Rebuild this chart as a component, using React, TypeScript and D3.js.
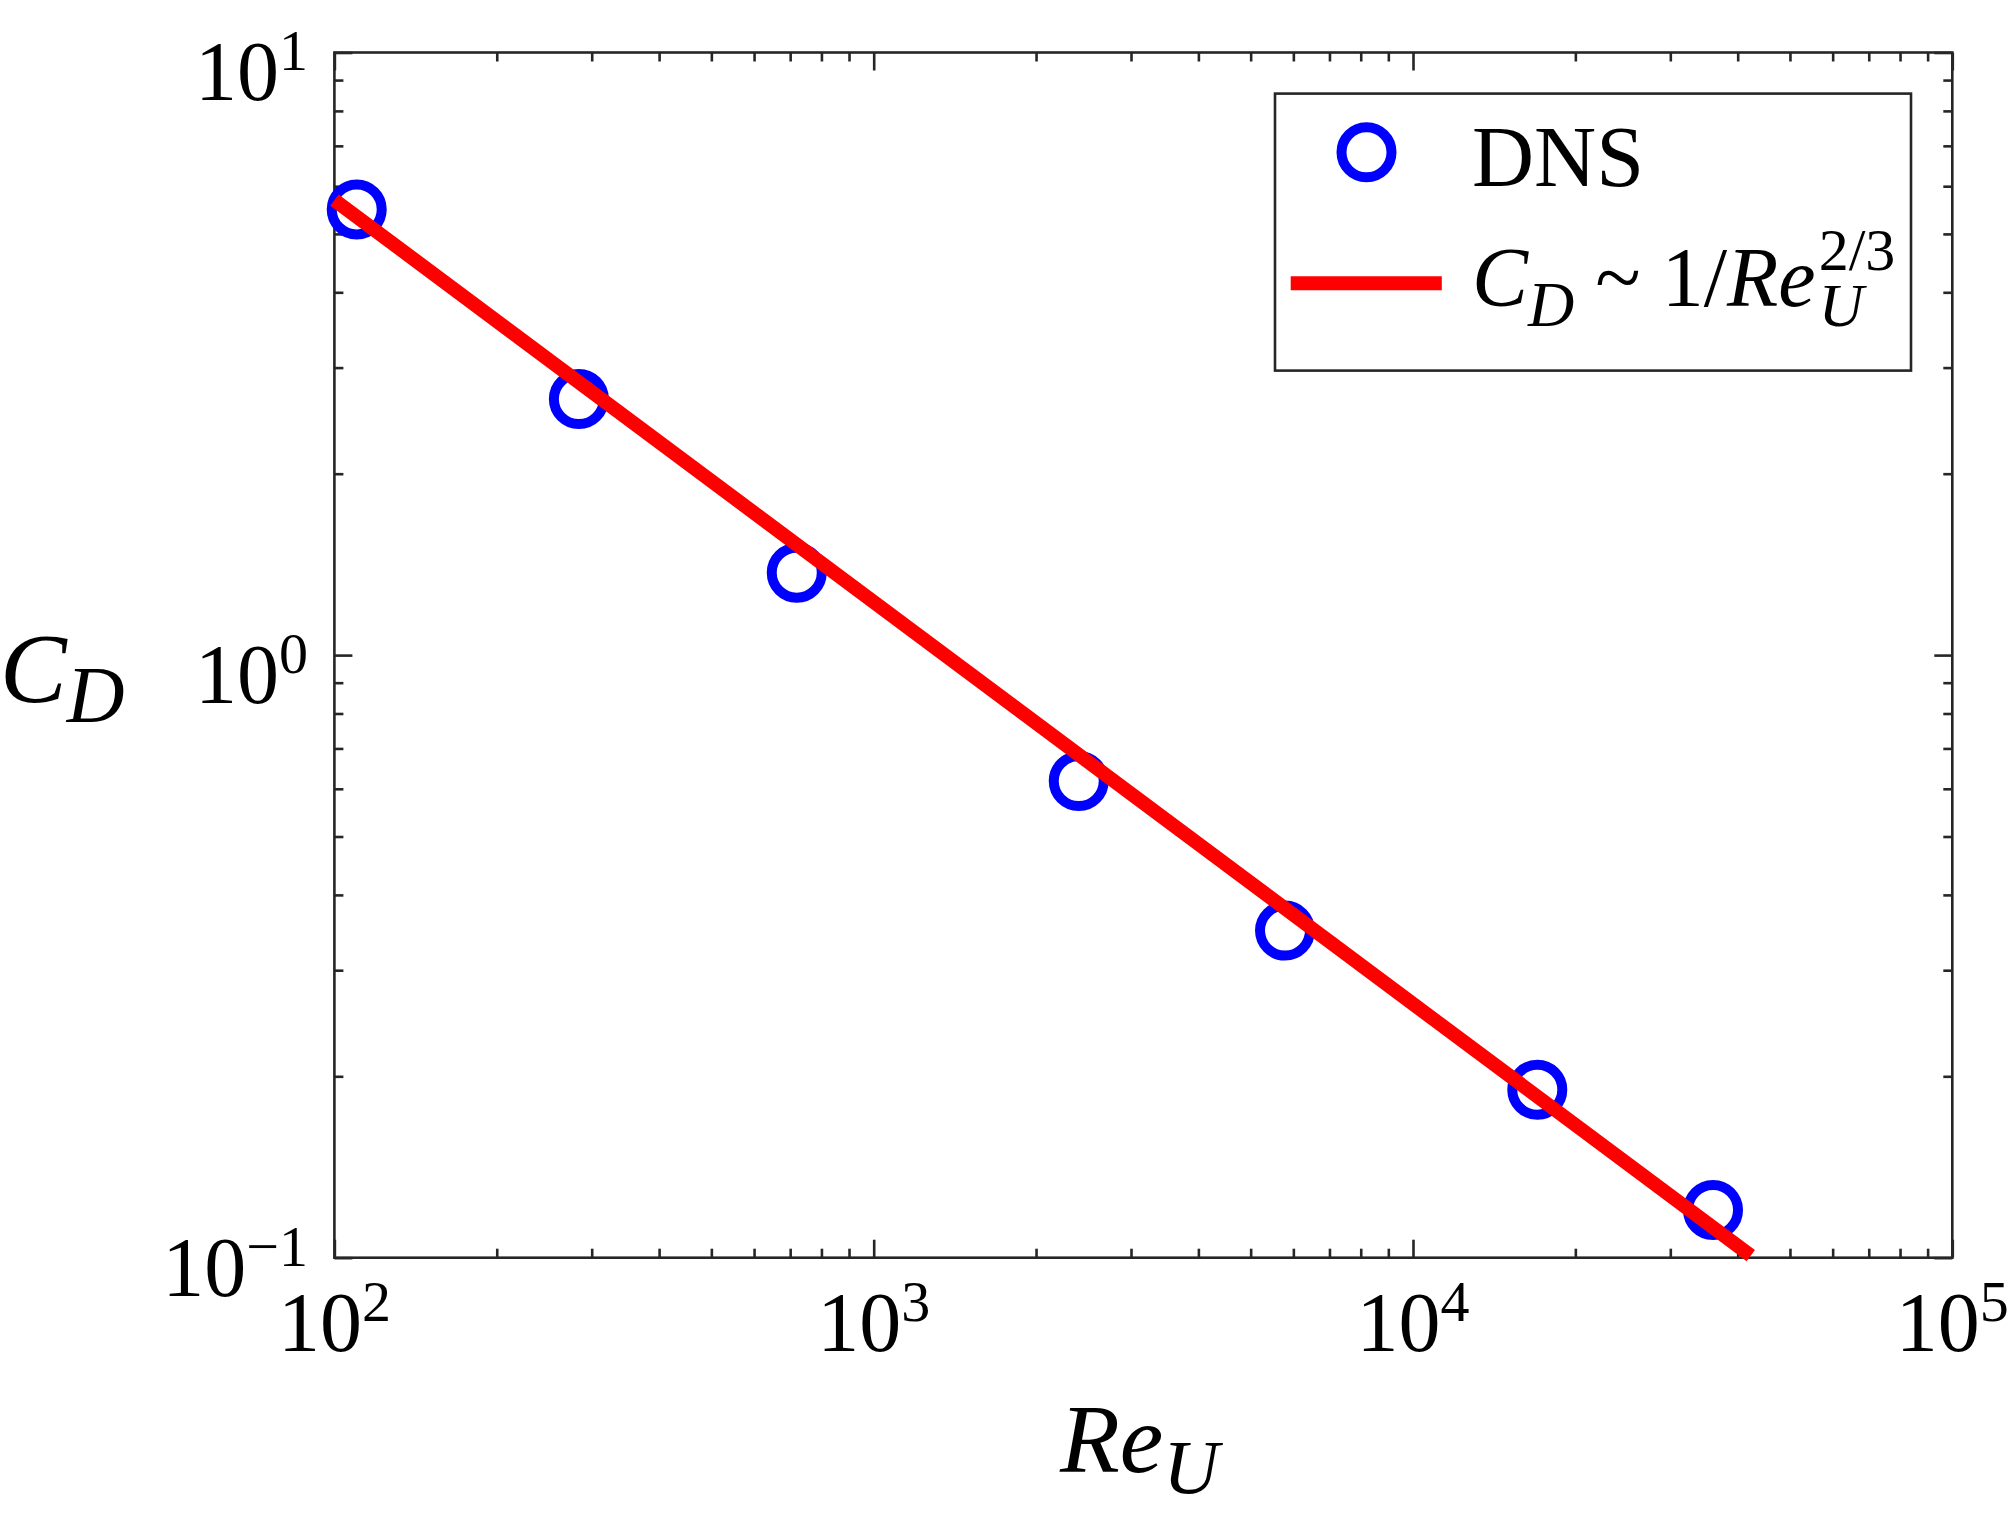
import React, { useRef, useEffect } from 'react';
import * as d3 from 'd3';

// DNS drag coefficient vs Reynolds number
const reDns = [110, 284, 720, 2400, 5790, 17000, 36000];
const cdDns = [5.49, 2.66, 1.37, 0.618, 0.349, 0.19, 0.12];

// fitted power law C_D ~ 1/Re_U^(2/3), end points of the drawn line
const reFit = [100, 42300];
const cdFit = [5.69, 0.1008];

const xDecades = [100, 1000, 10000, 100000];
const xExponents = ['2', '3', '4', '5'];
const yDecades = [0.1, 1, 10];
const yExponents = ['\u22121', '0', '1'];

const W = 2010;
const H = 1524;
const SERIF = '"Liberation Serif", "Times New Roman", Times, serif';
const AXIS = '#262626';

const App = () => {
    const ref = useRef<SVGSVGElement | null>(null);

    useEffect(() => {
        const svg = d3.select(ref.current);
        svg.selectAll('*').remove();

        const x = d3.scaleLog().domain([100, 100000]).range([334.4, 1952.3]);
        const y = d3.scaleLog().domain([0.1, 10]).range([1257.7, 52.5]);
        const [x0, x1] = x.range();
        const [y0, y1] = y.range();

        const xMinor: number[] = [];
        xDecades.slice(0, -1).forEach(d => { for (let k = 2; k < 10; k++) xMinor.push(d * k); });
        const yMinor: number[] = [];
        yDecades.slice(0, -1).forEach(d => { for (let k = 2; k < 10; k++) yMinor.push(d * k); });

        // frame
        svg.append('rect')
            .attr('x', x0).attr('y', y1)
            .attr('width', x1 - x0).attr('height', y0 - y1)
            .attr('fill', 'none').attr('stroke', AXIS).attr('stroke-width', 2.6);

        // inward ticks on all four sides
        const tickGroup = (axis: any, tx: number, ty: number) => {
            const g = svg.append('g').attr('transform', `translate(${tx},${ty})`).call(axis);
            g.select('.domain').remove();
            g.selectAll('line').attr('stroke', AXIS).attr('stroke-width', 2.6);
            g.selectAll('text').remove();
        };
        const inner = [xDecades.slice(1, -1), xMinor];
        [[xDecades, 18], [xMinor, 9]].forEach(([vals, len]: any) => {
            tickGroup(d3.axisBottom(x).tickValues(vals).tickSize(-len).tickSizeOuter(0), 0, y0);
            tickGroup(d3.axisTop(x).tickValues(vals).tickSize(-len).tickSizeOuter(0), 0, y1);
        });
        [[yDecades, 18], [yMinor, 9]].forEach(([vals, len]: any) => {
            tickGroup(d3.axisLeft(y).tickValues(vals).tickSize(-len).tickSizeOuter(0), x0, 0);
            tickGroup(d3.axisRight(y).tickValues(vals).tickSize(-len).tickSizeOuter(0), x1, 0);
        });
        void inner;

        // tick labels 10^n
        const powLabel = (px: number, py: number, anchor: string, exp: string) => {
            const t = svg.append('text')
                .attr('x', px).attr('y', py)
                .attr('text-anchor', anchor)
                .attr('font-family', SERIF).attr('font-size', 84).attr('fill', '#000');
            t.append('tspan').text('10');
            t.append('tspan').attr('font-size', 58).attr('dy', -30).text(exp);
        };
        xDecades.forEach((d, i) => powLabel(x(d), 1351, 'middle', xExponents[i]));
        yDecades.forEach((d, i) => powLabel(308, y(d) + (i === 0 ? 38 : 47.5), 'end', yExponents[i]));

        // axis titles
        const yt = svg.append('text')
            .attr('x', 0).attr('y', 701.7)
            .attr('font-family', SERIF).attr('font-style', 'italic').attr('font-size', 100);
        yt.append('tspan').text('C');
        yt.append('tspan').attr('font-size', 80).attr('dy', 20).text('D');

        const xt = svg.append('text')
            .attr('x', 1060).attr('y', 1472)
            .attr('font-family', SERIF).attr('font-style', 'italic').attr('font-size', 98);
        xt.append('tspan').text('Re');
        xt.append('tspan').attr('font-size', 77).attr('dy', 21).text('U');

        // DNS markers
        svg.append('g').selectAll('circle')
            .data(reDns.map((r, i) => ({ r, c: cdDns[i] })))
            .join('circle')
            .attr('cx', d => x(d.r)).attr('cy', d => y(d.c))
            .attr('r', 25)
            .attr('fill', 'none').attr('stroke', '#0000ff').attr('stroke-width', 10);

        // power-law line
        const line = d3.line<number>()
            .x((_, i) => x(reFit[i]))
            .y(d => y(d));
        svg.append('path')
            .datum(cdFit)
            .attr('d', line)
            .attr('fill', 'none').attr('stroke', '#ff0000').attr('stroke-width', 14);

        // legend
        const lg = svg.append('g');
        lg.append('rect')
            .attr('x', 1275).attr('y', 93.6).attr('width', 636).attr('height', 277)
            .attr('fill', '#fff').attr('stroke', AXIS).attr('stroke-width', 2.6);
        lg.append('circle')
            .attr('cx', 1366.5).attr('cy', 152.3).attr('r', 25)
            .attr('fill', 'none').attr('stroke', '#0000ff').attr('stroke-width', 10);
        lg.append('line')
            .attr('x1', 1290.7).attr('x2', 1441.8).attr('y1', 283.3).attr('y2', 283.3)
            .attr('stroke', '#ff0000').attr('stroke-width', 14);
        lg.append('text')
            .attr('x', 1472).attr('y', 186)
            .attr('font-family', SERIF).attr('font-size', 86).text('DNS');

        const lt = lg.append('text')
            .attr('x', 1472).attr('y', 306)
            .attr('font-family', SERIF).attr('font-size', 84);
        lt.append('tspan').attr('font-style', 'italic').text('C');
        lt.append('tspan').attr('font-style', 'italic').attr('font-size', 64).attr('dy', 20).text('D');
        lt.append('tspan').attr('dy', -20).text('\u00A0~\u00A01/');
        lt.append('tspan').attr('font-style', 'italic').text('Re');
        const node = lt.node() as SVGTextElement;
        const endX = 1472 + node.getComputedTextLength() + 3;
        lg.append('text')
            .attr('x', endX).attr('y', 270)
            .attr('font-family', SERIF).attr('font-size', 60).text('2/3');
        lg.append('text')
            .attr('x', endX).attr('y', 326)
            .attr('font-family', SERIF).attr('font-style', 'italic').attr('font-size', 62).text('U');
    }, []);

    return (
        <svg
            ref={ref}
            width={W}
            height={H}
            style={{ position: 'absolute', left: 0, top: 0, background: '#fff' }}
        />
    );
};

export default App;
